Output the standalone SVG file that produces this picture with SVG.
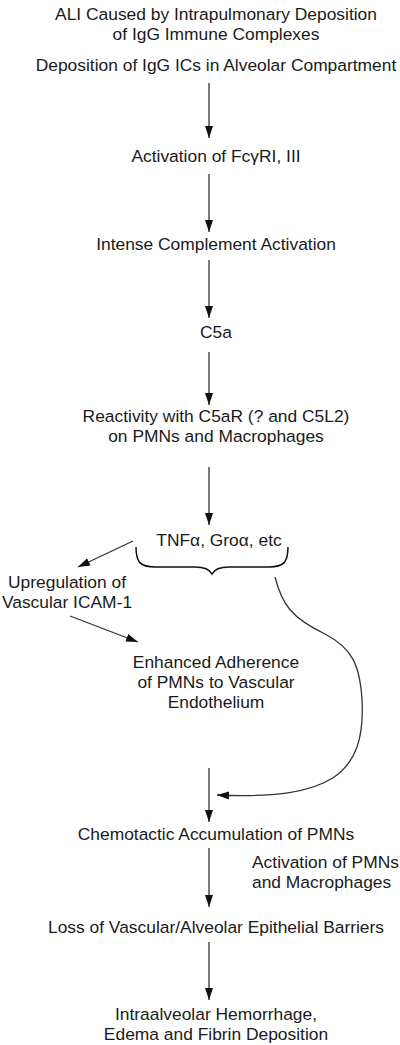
<svg xmlns="http://www.w3.org/2000/svg" width="400" height="1045" viewBox="0 0 400 1045">
<defs>
<style>
text{font-family:"Liberation Sans",Arial,sans-serif;font-size:17.4px;fill:#1a1a1a}
.c{text-anchor:middle}
.ln{stroke:#333;stroke-width:1.3;fill:none}
</style>
<marker id="ah" markerUnits="userSpaceOnUse" markerWidth="13" markerHeight="9" refX="12" refY="4" orient="auto">
<path d="M0,0 L12,4 L0,8 z" fill="#111"/>
</marker>
</defs>
<rect width="400" height="1045" fill="#fff"/>
<g id="n_title"><text class="c" x="216" y="20">ALI Caused by Intrapulmonary Deposition</text><text class="c" x="216" y="40">of IgG Immune Complexes</text></g>
<g id="n_deposition"><text class="c" x="216" y="71">Deposition of IgG ICs in Alveolar Compartment</text></g>
<g id="n_fcgr"><text class="c" x="216" y="162">Activation of FcγRI, III</text></g>
<g id="n_complement"><text class="c" x="216" y="250">Intense Complement Activation</text></g>
<g id="n_c5a"><text class="c" x="216" y="338">C5a</text></g>
<g id="n_reactivity"><text class="c" x="216" y="422">Reactivity with C5aR (? and C5L2)</text><text class="c" x="216" y="442">on PMNs and Macrophages</text></g>
<g id="n_tnf"><text class="c" x="219" y="546">TNFα, Groα, etc</text>
<path d="M136,547 C136,562 140,567 155,567 L195,567 C205,567 210,570 212,574 C214,570 219,567 229,567 L269,567 C284,567 288,562 288,547" fill="none" stroke="#111" stroke-width="1.5"/></g>
<g id="n_icam"><text class="c" x="67" y="588">Upregulation of</text><text class="c" x="67" y="608">Vascular ICAM-1</text></g>
<g id="n_adherence"><text class="c" x="216" y="668">Enhanced Adherence</text><text class="c" x="216" y="688">of PMNs to Vascular</text><text class="c" x="216" y="708">Endothelium</text></g>
<g id="n_chemotactic"><text class="c" x="216" y="840">Chemotactic Accumulation of PMNs</text></g>
<g id="n_activation"><text x="252" y="868">Activation of PMNs</text><text x="252" y="888">and Macrophages</text></g>
<g id="n_loss"><text class="c" x="216" y="933">Loss of Vascular/Alveolar Epithelial Barriers</text></g>
<g id="n_hemorrhage"><text class="c" x="216" y="1020">Intraalveolar Hemorrhage,</text><text class="c" x="216" y="1040">Edema and Fibrin Deposition</text></g>
<g id="connectors">
<line class="ln" x1="209" y1="83" x2="209" y2="138" marker-end="url(#ah)"/>
<line class="ln" x1="209" y1="174" x2="209" y2="232" marker-end="url(#ah)"/>
<line class="ln" x1="209" y1="260" x2="209" y2="318" marker-end="url(#ah)"/>
<line class="ln" x1="209" y1="352" x2="209" y2="405" marker-end="url(#ah)"/>
<line class="ln" x1="209" y1="467" x2="209" y2="525" marker-end="url(#ah)"/>
<line class="ln" x1="133" y1="541" x2="78" y2="567" marker-end="url(#ah)"/>
<line class="ln" x1="70" y1="616" x2="138" y2="642" marker-end="url(#ah)"/>
<path class="ln" d="M275,577 C282,605 292,618 325,634 C352,648 360,665 362,700 C366,775 330,800 217,795" marker-end="url(#ah)"/>
<line class="ln" x1="209" y1="768" x2="209" y2="822" marker-end="url(#ah)"/>
<line class="ln" x1="209" y1="848" x2="209" y2="907" marker-end="url(#ah)"/>
<line class="ln" x1="209" y1="942" x2="209" y2="1000" marker-end="url(#ah)"/>
</g>
</svg>
